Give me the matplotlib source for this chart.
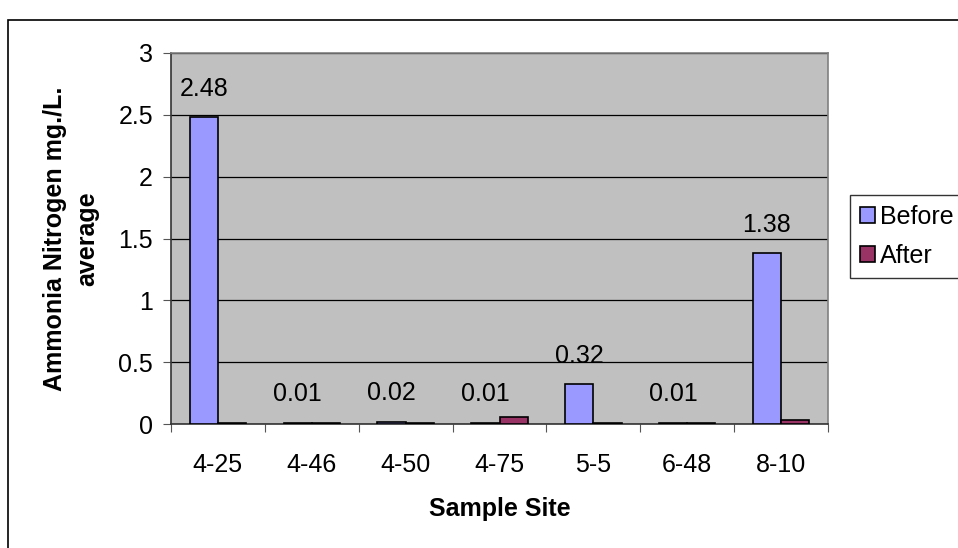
import matplotlib
matplotlib.use("Agg")
import matplotlib.pyplot as plt
import numpy as np
from matplotlib.patches import Rectangle

plt.rcParams['font.family'] = ['Liberation Sans', 'DejaVu Sans']

categories = ["4-25", "4-46", "4-50", "4-75", "5-5", "6-48", "8-10"]
before = [2.48, 0.01, 0.02, 0.01, 0.32, 0.01, 1.38]
after = [0.01, 0.01, 0.01, 0.06, 0.01, 0.01, 0.03]
before_labels = ["2.48", "0.01", "0.02", "0.01", "0.32", "0.01", "1.38"]
yticks = [0, 0.5, 1, 1.5, 2, 2.5, 3]
ytick_labels = ["0", "0.5", "1", "1.5", "2", "2.5", "3"]

W, H = 958, 548
FS = 18
fig = plt.figure(figsize=(W/100, H/100), dpi=100)
fig.patch.set_facecolor("white")

# outer chart frame
frame = Rectangle((8/W, -0.05), 1.2, (H-20)/H + 0.05, transform=fig.transFigure,
                  fill=False, edgecolor="black", linewidth=1.2)
fig.patches.append(frame)

ax = fig.add_axes([171/W, 1-424/H, (828-171)/W, (424-53)/H])
ax.set_facecolor("#C0C0C0")

x = np.arange(len(categories))
bw = 0.3
ax.bar(x - bw/2, before, bw, color="#9999FF", edgecolor="black", linewidth=1.2, label="Before", zorder=3)
ax.bar(x + bw/2, after, bw, color="#993366", edgecolor="black", linewidth=1.2, label="After", zorder=3)

for xi, v, lab in zip(x, before, before_labels):
    ax.annotate(lab, (xi - bw/2, v), xytext=(0, 12), textcoords="offset points",
                ha="center", va="bottom", fontsize=FS, zorder=4)

ax.set_xlim(-0.5, len(categories) - 0.5)
ax.set_ylim(0, 3)
ax.set_yticks(yticks)
ax.set_yticklabels(ytick_labels, fontsize=FS)
ax.yaxis.grid(True, color="black", linewidth=0.9, zorder=1)
ax.set_axisbelow(True)

ax.set_xticks(np.arange(-0.5, len(categories), 1.0))
ax.set_xticklabels([])
ax.set_xticks(x, minor=True)
ax.set_xticklabels(categories, minor=True, fontsize=FS)
ax.tick_params(axis="x", which="minor", length=0, pad=21)
ax.tick_params(axis="x", which="major", length=6, direction="out", color="#555555")
ax.tick_params(axis="y", length=6, direction="out", pad=7, color="#555555")

for s in ["top", "right"]:
    ax.spines[s].set_color("#808080")
    ax.spines[s].set_linewidth(1.2)
for s in ["left", "bottom"]:
    ax.spines[s].set_color("#333333")
    ax.spines[s].set_linewidth(1.2)

ax.set_xlabel("Sample Site", fontsize=FS, fontweight="bold", labelpad=14)
ax.set_ylabel("Ammonia Nitrogen mg./L.\naverage", fontsize=FS, fontweight="bold", labelpad=14,
              linespacing=1.4)

leg = ax.legend(loc="upper left", bbox_to_anchor=(850/W, 1-195/H), bbox_transform=fig.transFigure,
                frameon=True, fancybox=False, edgecolor="black", fontsize=FS,
                handlelength=0.6, handleheight=0.6, handletextpad=0.2, borderpad=0.4,
                labelspacing=0.6, borderaxespad=0)
leg.get_frame().set_linewidth(1.0)

fig.savefig("out.png", dpi=100)
